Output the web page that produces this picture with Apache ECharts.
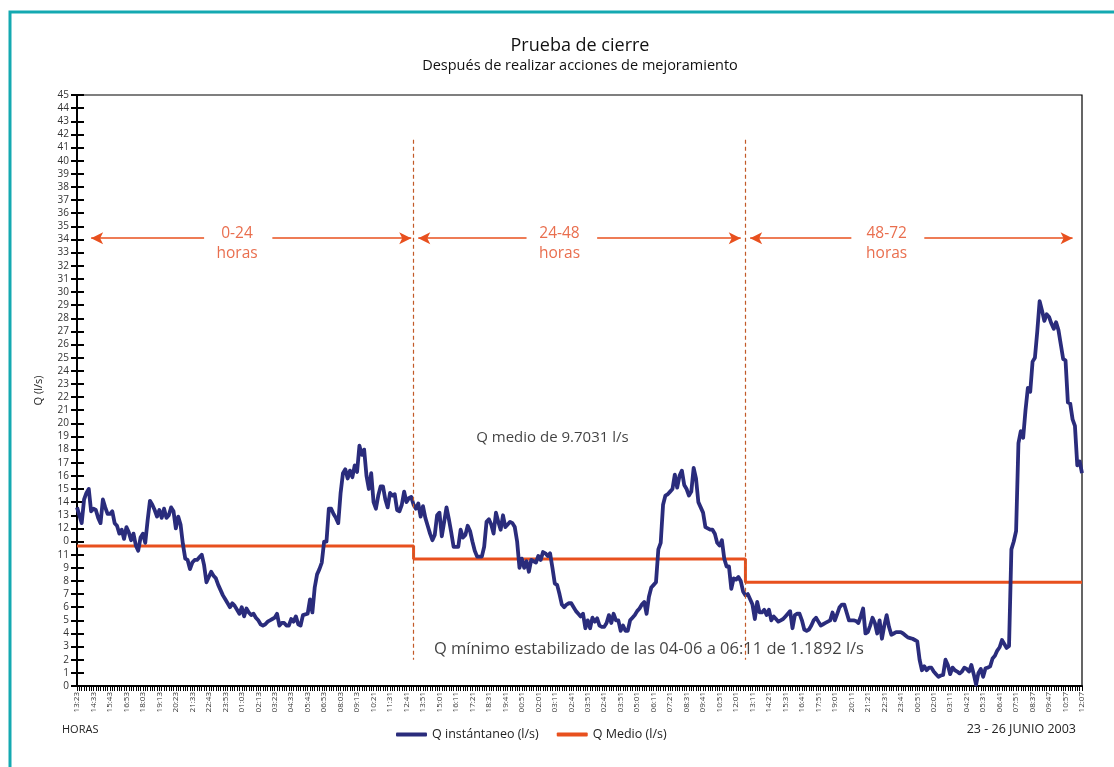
<!DOCTYPE html>
<html>
<head>
<meta charset="utf-8">
<script src="https://cdn.jsdelivr.net/npm/echarts@6/dist/echarts.min.js"></script>
<style>
  html, body { margin: 0; padding: 0; background: #fff; }
  #main { width: 1114px; height: 767px; }
</style>
</head>
<body>
<div id="main"></div>
<script>
var myChart = echarts.init(document.getElementById('main'));

// etiquetas de hora del eje x (una cada 7 lecturas)
var tickLabels = [
  '13:23','14:33','15:43','16:53','18:03','19:13','20:23','21:33','22:43','23:53',
  '01:03','02:13','03:23','04:33','05:43','06:53','08:03','09:13','10:21','11:31',
  '12:41','13:51','15:01','16:11','17:21','18:31','19:41','00:51','02:01','03:11',
  '02:41','03:51','02:41','03:51','05:01','06:11','07:21','08:31','09:41','10:51',
  '12:01','13:11','14:21','15:31','16:41','17:51','19:01','20:11','21:21','22:31',
  '23:41','00:51','02:01','03:11','04:21','05:31','06:41','07:51','08:37','09:47',
  '10:57','12:07'
];
var stepsPerLabel = 7;

// Q instantaneo (l/s), lectura a lectura
var qInstantaneo = [
  13.6,13.0,12.4,14.2,14.7,15.0,13.3,  13.5,13.4,12.8,12.4,14.2,13.6,13.1,
  13.1,13.3,12.4,12.2,11.6,11.9,11.2,  12.1,11.7,11.1,11.6,10.7,10.3,11.3,
  11.6,10.9,12.6,14.1,13.8,13.4,12.9,  13.4,12.8,13.5,12.8,13.0,13.6,13.3,
  12.0,12.9,12.3,10.8,9.7,9.6,8.9,     9.4,9.6,9.6,9.8,10.0,9.2,7.9,
  8.3,8.7,8.4,8.2,7.7,7.3,6.9,         6.6,6.3,6.0,6.3,6.1,5.8,5.5,
  6.0,5.3,5.9,5.6,5.4,5.5,5.2,         5.0,4.7,4.6,4.7,4.9,5.0,5.1,
  5.2,5.5,4.6,4.8,4.8,4.6,4.6,         5.1,4.9,5.3,4.7,4.6,5.4,5.45,
  5.5,6.6,5.6,7.5,8.5,8.9,9.4,         11.0,11.0,13.5,13.5,13.1,12.8,12.4,
  14.7,16.2,16.5,15.8,16.4,15.9,16.8,  16.3,18.3,17.6,18.0,16.0,15.0,16.2,
  14.0,13.5,14.5,15.2,15.2,14.2,13.6,  14.7,14.5,14.6,13.4,13.3,13.8,14.8,
  14.0,14.3,14.4,13.8,13.5,13.9,12.9,  13.7,12.8,12.2,11.6,11.1,11.5,13.0,
  13.2,11.4,12.5,13.6,12.7,11.7,10.6,  10.6,10.6,11.9,11.3,11.5,12.2,11.8,
  11.0,10.3,9.85,9.85,9.85,10.6,12.5,  12.7,12.3,11.6,13.2,12.5,11.9,13.0,
  12.1,12.3,12.5,12.4,12.1,11.0,9.0,   9.7,9.0,9.5,8.7,9.6,9.5,9.4,
  9.9,9.6,10.2,10.1,9.9,10.1,9.0,      7.8,7.7,7.0,6.2,6.0,6.2,6.3,
  6.3,6.0,5.7,5.5,5.3,5.5,4.4,         5.0,4.4,5.2,4.9,5.15,4.6,4.5,
  4.5,4.8,5.4,4.8,5.5,5.0,5.0,         4.2,4.6,4.2,4.2,5.0,5.2,5.4,
  5.7,5.9,6.2,6.4,5.5,6.8,7.5,         7.7,7.9,10.4,10.9,13.8,14.5,14.6,
  14.8,15.0,16.1,15.1,16.0,16.4,15.3,  15.0,14.5,14.8,16.6,15.8,14.0,13.6,
  13.2,12.1,12.0,11.9,11.9,11.6,10.9,  10.7,11.1,9.7,9.1,9.1,7.4,8.2,
  8.1,8.3,8.0,7.2,6.9,7.0,6.6,         6.2,5.1,6.4,5.6,5.6,5.8,5.4,
  5.8,5.0,5.3,5.1,4.9,5.0,5.1,         5.3,5.5,5.7,4.4,5.4,5.5,5.5,
  5.0,4.3,4.2,4.3,4.6,5.0,5.2,         4.9,4.6,4.7,4.8,4.9,5.0,5.6,
  5.0,5.5,6.0,6.2,6.2,5.6,5.0,         5.0,5.0,4.95,4.8,5.3,5.9,4.0,
  4.1,4.6,5.2,4.8,4.0,5.0,3.6,         4.6,5.4,4.5,3.9,4.0,4.1,4.1,
  4.1,4.0,3.85,3.7,3.65,3.6,3.5,       3.4,2.0,1.2,1.5,1.2,1.4,1.4,
  1.1,0.9,0.7,0.8,0.85,2.0,1.6,        0.9,1.4,1.2,1.1,0.96,1.1,1.4,
  1.3,1.1,1.6,0.9,0.1,1.0,1.3,         0.7,1.35,1.4,1.5,2.1,2.3,2.7,
  2.95,3.5,3.2,2.9,3.05,10.4,11.0,     11.8,18.5,19.4,18.9,21.0,22.7,22.4,
  24.7,25.0,27.0,29.3,28.6,27.8,28.3,  28.1,27.6,27.2,27.7,27.1,26.0,24.9,
  24.8,21.6,21.5,20.3,19.8,16.8,17.1,
  16.2
];

// Q medio por periodo
var periodLabels = ['0-24', '24-48', '48-72'];
var periodBounds = [0, 143, 284, 427];
var qMedio = [10.66, 9.67, 7.9];

var categories = [];
for (var i = 0; i < qInstantaneo.length; i++) {
    categories.push(i % stepsPerLabel === 0 ? tickLabels[i / stepsPerLabel] : '');
}

var qMedioData = [];
for (var p = 0; p < qMedio.length; p++) {
    qMedioData.push([periodBounds[p], qMedio[p]]);
    qMedioData.push([periodBounds[p + 1], qMedio[p]]);
}

var orange = '#e8501e';
var textFont = 'Open Sans';

// flechas de cada periodo y lineas divisorias
var arrowY = 34.1;
var arrowLines = [[54, 5.5], [83, 141.5], [191, 145], [221, 282], [329, 286], [360, 422.7]];
var periodText = [68, 205, 344];
var arrowMarks = arrowLines.map(function (a) {
    return [
        {coord: [a[0], arrowY], symbol: 'none'},
        {coord: [a[1], arrowY], symbol: 'arrow', symbolSize: [9, 12]}
    ];
});
var dividerMarks = [periodBounds[1], periodBounds[2]].map(function (b) {
    return [{coord: [b, 41.6]}, {coord: [b, 2.0]}];
});

var labelData = periodLabels.map(function (t, k) {
    return {value: [periodText[k], 33.7], label: {formatter: t + '\nhoras'}};
});

option = {
    animation: false,
    backgroundColor: '#fff',
    textStyle: {fontFamily: textFont},
    title: {
        text: 'Prueba de cierre',
        subtext: 'Después de realizar acciones de mejoramiento',
        left: 575,
        textAlign: 'center',
        top: 32,
        itemGap: 3,
        textStyle: {fontSize: 18, fontWeight: 'normal', color: '#111', fontFamily: textFont},
        subtextStyle: {fontSize: 14.5, color: '#111', fontFamily: textFont}
    },
    legend: {
        data: ['Q instántaneo (l/s)', 'Q Medio (l/s)'],
        left: 391,
        top: 723,
        icon: 'roundRect',
        itemWidth: 31,
        itemHeight: 4,
        itemGap: 18,
        textStyle: {fontSize: 12.5, color: '#222', fontFamily: textFont}
    },
    grid: {
        left: 77, right: 32, top: 95, bottom: 81,
        show: true, borderColor: '#000', borderWidth: 1.2,
        containLabel: false
    },
    xAxis: {
        type: 'category',
        data: categories,
        boundaryGap: false,
        axisLine: {lineStyle: {color: '#000', width: 2}},
        axisTick: {interval: 0, length: 5, lineStyle: {color: '#000', width: 1}},
        axisLabel: {
            interval: stepsPerLabel - 1,
            rotate: 90,
            fontSize: 8,
            color: '#333',
            margin: 6,
            fontFamily: textFont
        },
        splitLine: {show: false}
    },
    yAxis: [{
        type: 'value',
        min: 0, max: 45, interval: 1,
        name: 'Q (l/s)',
        nameLocation: 'middle',
        nameGap: 33,
        nameTextStyle: {fontSize: 11, color: '#222', fontFamily: textFont},
        axisLine: {show: true, lineStyle: {color: '#000', width: 2}},
        axisTick: {show: true, length: 6, lineStyle: {color: '#000', width: 2}},
        axisLabel: {
            fontSize: 10, color: '#333', margin: 8, fontFamily: textFont,
            formatter: function (v) {
                if (v === 10) return '11';
                if (v === 11) return '0';
                return v;
            }
        },
        splitLine: {show: false}
    }, {
        type: 'value',
        min: 0, max: 45, interval: 1,
        position: 'left',
        axisLine: {show: false},
        axisTick: {show: true, inside: true, length: 7, lineStyle: {color: '#000', width: 2}},
        axisLabel: {show: false},
        splitLine: {show: false}
    }],
    graphic: [
        {
            type: 'rect',
            shape: {x: 10, y: 12, width: 1200, height: 800},
            style: {fill: 'none', stroke: '#14a9b1', lineWidth: 3},
            silent: true
        },
        {
            type: 'text', left: 62, top: 724,
            style: {text: 'HORAS', fontSize: 11, fill: '#222', fontFamily: textFont}
        },
        {
            type: 'text', right: 38, top: 723,
            style: {text: '23 - 26 JUNIO 2003', fontSize: 12.5, fill: '#222', fontFamily: textFont}
        }
    ],
    series: [
        {
            name: 'Q instántaneo (l/s)',
            type: 'line',
            data: qInstantaneo,
            showSymbol: false,
            symbol: 'none',
            lineStyle: {color: '#2a2c7c', width: 3.8, join: 'round'},
            itemStyle: {color: '#2a2c7c'},
            z: 3,
            markLine: {
                silent: true,
                symbol: 'none',
                label: {show: false},
                lineStyle: {color: orange, width: 1.5, type: 'solid'},
                data: arrowMarks
            }
        },
        {
            name: 'Q Medio (l/s)',
            type: 'line',
            data: qMedioData,
            showSymbol: false,
            symbol: 'none',
            lineStyle: {color: orange, width: 3},
            itemStyle: {color: orange},
            z: 2,
            markLine: {
                silent: true,
                symbol: 'none',
                label: {show: false},
                lineStyle: {color: '#c25a28', width: 1.2, type: [4, 3], opacity: 1},
                emphasis: {disabled: true},
                data: dividerMarks
            }
        },
        {
            name: 'periodos',
            type: 'scatter',
            symbolSize: 0,
            silent: true,
            itemStyle: {color: 'transparent'},
            label: {
                show: true, position: 'inside',
                color: '#e44a22', fontSize: 15.5, lineHeight: 20, fontFamily: textFont
            },
            data: labelData,
            z: 5
        },
        {
            name: 'notas',
            type: 'scatter',
            symbolSize: 0,
            silent: true,
            itemStyle: {color: 'transparent'},
            label: {show: true, position: 'inside', color: '#111', fontFamily: textFont},
            data: [
                {value: [202, 18.9], label: {formatter: 'Q medio de 9.7031 l/s', fontSize: 15}},
                {value: [242.6, 2.8], label: {formatter: 'Q mínimo estabilizado de las 04-06 a 06:11 de 1.1892 l/s', fontSize: 16.5}}
            ],
            z: 5
        }
    ]
};

myChart.setOption(option);
</script>
</body>
</html>
